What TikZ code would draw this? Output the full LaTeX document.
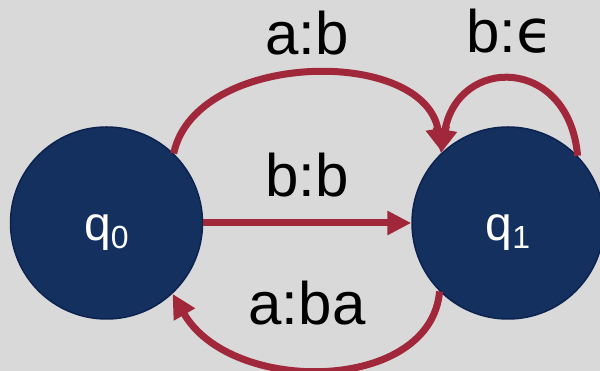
\documentclass[tikz,border=0pt]{standalone}
\usepackage{fontspec}
\setmainfont{Liberation Sans}
\newfontfamily\greekfont{DejaVu Sans}
\usetikzlibrary{arrows.meta, positioning}
\definecolor{stateblue}{HTML}{14305F}
\definecolor{stateedge}{HTML}{0C2250}
\definecolor{arcred}{HTML}{A0283A}
\definecolor{bggray}{HTML}{D9D9D9}
\tikzset{
    state/.style={
        circle, draw=stateedge, fill=stateblue, line width=1.5pt,
        minimum size=192pt, inner sep=0pt, text=white,
        font=\fontsize{48}{48}\selectfont,
    },
    trans/.style={-{Triangle[length=24pt, width=23pt]}, line width=7pt, draw=arcred},
    tlabel/.style={anchor=base, inner sep=0pt, font=\fontsize{60}{60}\selectfont},
}
\newcommand{\statename}[1]{\raisebox{-18pt}[0pt][0pt]{q\raisebox{-8pt}{\fontsize{32}{32}\selectfont #1}}}

\begin{document}
\begin{tikzpicture}[x=1pt, y=1pt]
    \fill[bggray] (0,0) rectangle (600,371);
    \useasboundingbox (0,0) rectangle (600,371);

    \node[state] (q0) at (106.5,148) {\statename{0}};
    \node[state] (q1) at (508,148) {\statename{1}};

    \draw[trans] (q0.46) .. controls +(78:105) and +(100:108) .. (q1.133);
    \draw[trans] (q0) -- (q1);
    \draw[trans] (q1.225) .. controls +(265:102) and +(300:118) .. (q0.313);
    \draw[trans] (q1.44) .. controls +(95:100) and +(80:100) .. (q1.134);

    \node[tlabel] (ab) at (307,316) {a:b};
    \node[tlabel] (bb) at (307,174) {b:b};
    \node[tlabel] (aba) at (307,46) {a:ba};
    \node[tlabel] (be) at (510,318) {b:{\greekfont ϵ}};
\end{tikzpicture}
\end{document}
